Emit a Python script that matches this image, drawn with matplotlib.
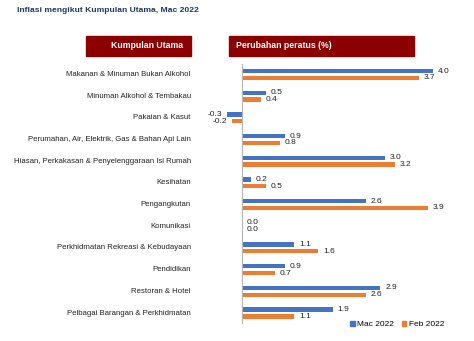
import matplotlib.pyplot as plt
import matplotlib.transforms as mtransforms
from matplotlib.patches import Rectangle, Patch
import numpy as np

plt.rcParams["font.family"] = ["Liberation Sans", "DejaVu Sans"]

groups = [
    "Makanan & Minuman Bukan Alkohol",
    "Minuman Alkohol & Tembakau",
    "Pakaian & Kasut",
    "Perumahan, Air, Elektrik, Gas & Bahan Api Lain",
    "Hiasan, Perkakasan & Penyelenggaraan Isi Rumah",
    "Kesihatan",
    "Pengangkutan",
    "Komunikasi",
    "Perkhidmatan Rekreasi & Kebudayaan",
    "Pendidikan",
    "Restoran & Hotel",
    "Pelbagai Barangan & Perkhidmatan",
]
mac2022 = [4.0, 0.5, -0.3, 0.9, 3.0, 0.2, 2.6, 0.0, 1.1, 0.9, 2.9, 1.9]
feb2022 = [3.7, 0.4, -0.2, 0.8, 3.2, 0.5, 3.9, 0.0, 1.6, 0.7, 2.6, 1.1]

blue = "#4472C4"
orange = "#ED7D31"
darkred = "#8B0000"

W, H = 474, 341
fig = plt.figure(figsize=(W / 100, H / 100), dpi=100)

# axes placed in pixel terms: x=0 sits at ~242px, rows run from 64px to 323px
x0, x1 = -0.4, 4.5
left_px = 241.7 + x0 * 47.8
right_px = 241.7 + x1 * 47.8
ax = fig.add_axes([left_px / W, 1 - 323 / H, (right_px - left_px) / W, (323 - 64) / H])

y = np.arange(len(groups))
bh = 0.2
off = 0.155
ax.barh(y - off, mac2022, height=bh, color=blue, label="Mac 2022")
ax.barh(y + off, feb2022, height=bh, color=orange, label="Feb 2022")

ax.set_xlim(x0, x1)
ax.set_ylim(11.46, -0.48)

for s in ["top", "right", "bottom"]:
    ax.spines[s].set_visible(False)
ax.spines["left"].set_position(("data", 0))
ax.spines["left"].set_color("#B4B4B4")
ax.spines["left"].set_linewidth(0.8)
ax.set_xticks([])
ax.set_yticks([])

# value labels beside each bar end
for vals, dy in [(mac2022, -off), (feb2022, off)]:
    for i, v in enumerate(vals):
        if v < 0:
            ax.text(v - 0.1, i + dy, f"{v:.1f}", ha="right", va="center",
                    fontsize=6, color="#222222", clip_on=False)
        else:
            ax.text(v + 0.1, i + dy, f"{v:.1f}", ha="left", va="center",
                    fontsize=6, color="#222222", clip_on=False)

# category names, right aligned left of the axis
trans = mtransforms.blended_transform_factory(fig.transFigure, ax.transData)
for i, g in enumerate(groups):
    ax.text(190.7 / W, i, g, transform=trans, ha="right", va="center",
            fontsize=5.6, color="#222222", clip_on=False)

# header boxes
fig.patches.append(Rectangle((86 / W, 1 - 56 / H), (190.7 - 86) / W, 20 / H,
                             transform=fig.transFigure, color=darkred))
fig.patches.append(Rectangle((229 / W, 1 - 56 / H), (413.7 - 229) / W, 20 / H,
                             transform=fig.transFigure, color=darkred))
fig.text(183 / W, 1 - 46 / H, "Kumpulan Utama", ha="right", va="center",
         fontsize=6.3, color="white", fontweight="bold")
fig.text(236 / W, 1 - 46 / H, "Perubahan peratus (%)", ha="left", va="center",
         fontsize=6.3, color="white", fontweight="bold")

fig.text(17 / W, 1 - 10.5 / H, "Inflasi mengikut Kumpulan Utama, Mac 2022",
         ha="left", va="center", fontsize=6.1, color="#1F3864", fontweight="bold")

handles = [Patch(color=blue, label="Mac 2022"), Patch(color=orange, label="Feb 2022")]
fig.legend(handles=handles, loc="center", bbox_to_anchor=(397 / W, 1 - 324.5 / H),
           ncol=2, frameon=False, fontsize=6, handlelength=0.55, handleheight=0.55,
           handletextpad=0.3, columnspacing=0.9, borderpad=0)

fig.savefig("out.png", dpi=100)
